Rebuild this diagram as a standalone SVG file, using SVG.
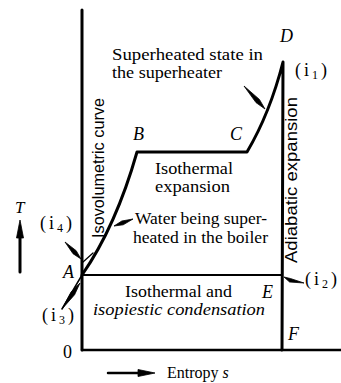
<svg xmlns="http://www.w3.org/2000/svg" width="341" height="383" viewBox="0 0 341 383">
<style>
.ln{fill:none;stroke:#000;stroke-linecap:round;stroke-linejoin:round}
.wg{fill:#000;stroke:#000;stroke-width:0.8;stroke-linejoin:round}
.t{font-family:"Liberation Serif","DejaVu Serif","Times New Roman",serif;font-size:16px;fill:#000}
.it{font-style:italic}
.v{font-family:"Liberation Sans","DejaVu Sans",Arial,sans-serif;font-size:16px;fill:#000}
.lb{font-family:"Liberation Serif","DejaVu Serif","Times New Roman",serif;font-size:18px;font-style:italic;fill:#000}
.ix{font-family:"Liberation Serif","DejaVu Serif","Times New Roman",serif;font-size:18px;letter-spacing:3px;fill:#000}
</style>
<rect width="341" height="383" fill="#fff"/>
<g id="axes">
<line class="ln" x1="82" y1="10" x2="82" y2="350" stroke-width="3"/>
<line class="ln" x1="82" y1="350" x2="341" y2="350" stroke-width="2.5"/>
<line class="ln" x1="20" y1="272" x2="20" y2="232" stroke-width="3"/>
<polygon class="wg" points="20,220 16.5,238 23.5,238"/>
<line class="ln" x1="108" y1="373" x2="140" y2="373" stroke-width="2.5"/>
<polygon class="wg" points="155,373 138,369.5 138,376.5"/>
</g>
<g id="connectors">
<path class="ln" d="M82,275 Q116,226 137,152 L247,152 Q270,113 283,62 L282,350" stroke-width="3"/>
<line class="ln" x1="82" y1="275" x2="282" y2="275" stroke-width="2.2"/>
<line class="ln" x1="62" y1="309" x2="82" y2="275" stroke-width="1.5"/>
<line class="ln" x1="83" y1="262" x2="93" y2="253" stroke-width="1.3"/>
<polygon class="wg" points="65,242 76.2,250.7 81,259 73,253.7"/>
<polygon class="wg" points="62,309 71,292.1 80,283 74.6,294.7"/>
<polygon class="wg" points="244,86 259.4,99.4 265,109 256,102.6"/>
<polygon class="wg" points="133,219 121.8,221 114,226 123.2,224.8"/>
<polygon class="wg" points="304,283 290.4,278.5 284,277 289.6,282"/>
</g>
<g id="superheated-label">
<text class="t" x="112" y="60" textLength="151" lengthAdjust="spacingAndGlyphs">Superheated state in</text>
<text class="t" x="112" y="78" textLength="110" lengthAdjust="spacingAndGlyphs">the superheater</text>
</g>
<g id="isothermal-expansion-label">
<text class="t" x="155" y="174" textLength="78" lengthAdjust="spacingAndGlyphs">Isothermal</text>
<text class="t" x="155" y="192" textLength="75" lengthAdjust="spacingAndGlyphs">expansion</text>
</g>
<g id="water-label">
<text class="t" x="135" y="224" textLength="132" lengthAdjust="spacingAndGlyphs">Water being super-</text>
<text class="t" x="133" y="243" textLength="135" lengthAdjust="spacingAndGlyphs">heated in the boiler</text>
</g>
<g id="condensation-label">
<text class="t" x="125" y="297" textLength="107" lengthAdjust="spacingAndGlyphs">Isothermal and</text>
<text class="t it" x="93" y="315" textLength="172" lengthAdjust="spacingAndGlyphs">isopiestic condensation</text>
</g>
<g id="isovolumetric-label">
<text class="v" transform="translate(104,238) rotate(-90)" textLength="140" lengthAdjust="spacingAndGlyphs">Isovolumetric curve</text>
</g>
<g id="adiabatic-label">
<text class="v" transform="translate(297,263) rotate(-90)" style="font-size:17px" textLength="166" lengthAdjust="spacingAndGlyphs">Adiabatic expansion</text>
</g>
<g id="point-A"><text class="lb" x="63" y="278">A</text></g>
<g id="point-B"><text class="lb" x="133" y="140">B</text></g>
<g id="point-C"><text class="lb" x="230" y="140">C</text></g>
<g id="point-D"><text class="lb" x="280" y="42">D</text></g>
<g id="point-E"><text class="lb" x="262" y="298">E</text></g>
<g id="point-F"><text class="lb" x="288" y="340">F</text></g>
<g id="i1"><text class="ix" x="295" y="76">(i<tspan dy="3" font-size="12">1</tspan><tspan dy="-3">)</tspan></text></g>
<g id="i2"><text class="ix" x="305" y="285">(i<tspan dy="3" font-size="12">2</tspan><tspan dy="-3">)</tspan></text></g>
<g id="i3"><text class="ix" x="42" y="321">(i<tspan dy="3" font-size="12">3</tspan><tspan dy="-3">)</tspan></text></g>
<g id="i4"><text class="ix" x="40" y="229">(i<tspan dy="3" font-size="12">4</tspan><tspan dy="-3">)</tspan></text></g>
<g id="axis-labels">
<text class="lb" x="15" y="213" style="font-size:17px">T</text>
<text class="t" x="63" y="358" style="font-size:18px">0</text>
<text class="t" x="167" y="378">Entropy <tspan class="it">s</tspan></text>
</g>
</svg>
